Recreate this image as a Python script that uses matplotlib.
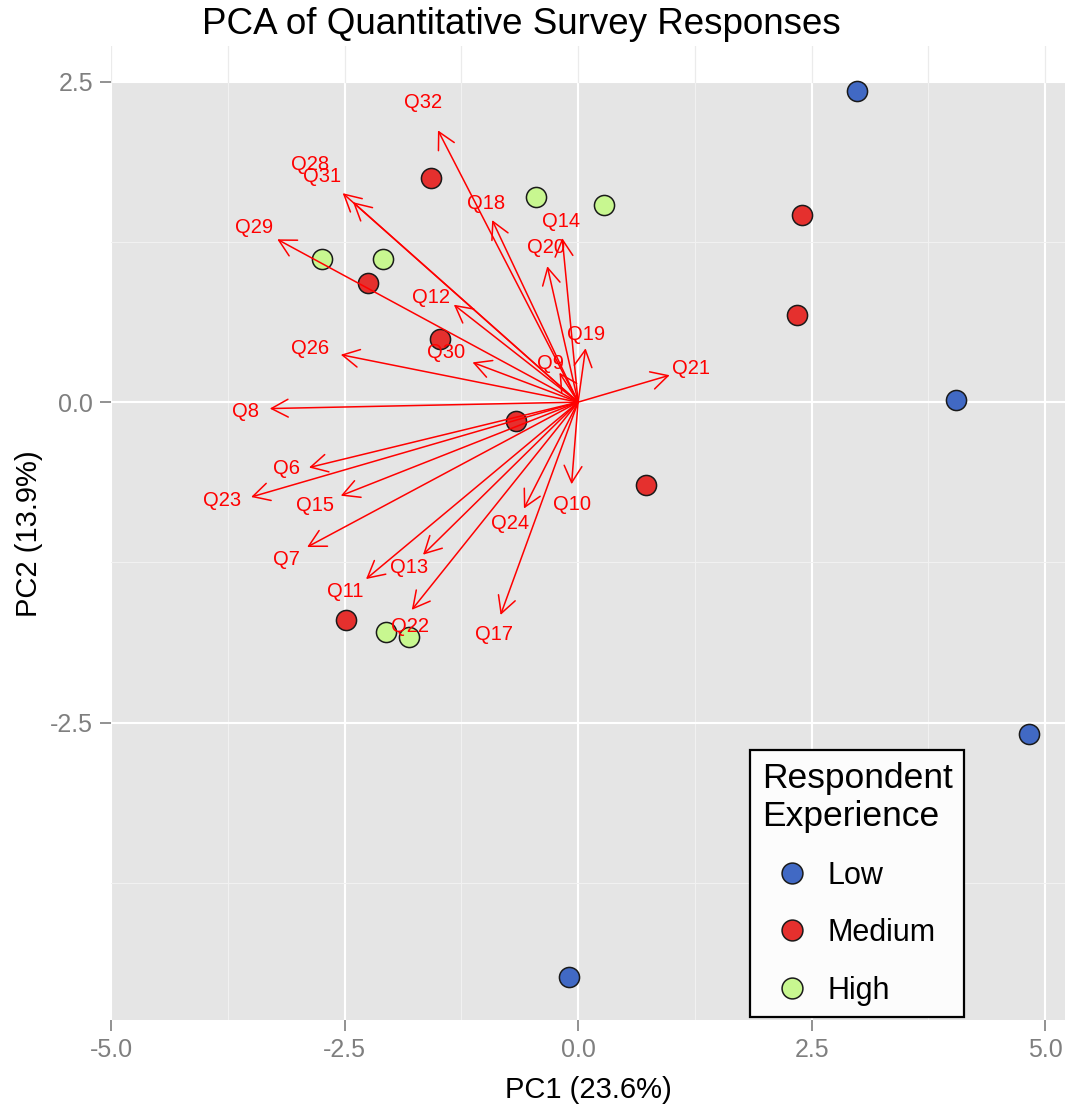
import matplotlib
matplotlib.use("Agg")
import matplotlib.pyplot as plt
from matplotlib.lines import Line2D

plt.rcParams['font.family'] = ['Liberation Sans', 'DejaVu Sans']

# respondent scores on PC1 / PC2
low_x = [2.99, 4.05, 4.83, -0.10]
low_y = [2.43, 0.02, -2.59, -4.48]
med_x = [-1.57, 2.40, -2.25, 2.34, -1.48, -0.67, 0.73, -2.48]
med_y = [1.75, 1.46, 0.93, 0.68, 0.49, -0.15, -0.65, -1.70]
high_x = [-0.45, 0.28, -2.74, -2.09, -2.06, -1.81]
high_y = [1.60, 1.54, 1.12, 1.12, -1.79, -1.83]

# variable loadings (arrow tips) and where their labels sit
var_names = ['Q32', 'Q28', 'Q31', 'Q29', 'Q18', 'Q14', 'Q20', 'Q12', 'Q26', 'Q30',
             'Q9', 'Q19', 'Q8', 'Q21', 'Q10', 'Q6', 'Q23', 'Q15', 'Q7', 'Q11',
             'Q13', 'Q22', 'Q17', 'Q24']
var_x = [-1.50, -2.52, -2.41, -3.22, -0.92, -0.17, -0.33, -1.33, -2.54, -1.13,
         -0.20, 0.08, -3.30, 0.98, -0.07, -2.88, -3.50, -2.54, -2.90, -2.27,
         -1.66, -1.78, -0.83, -0.58]
var_y = [2.12, 1.63, 1.56, 1.27, 1.42, 1.28, 1.06, 0.76, 0.37, 0.31,
         0.23, 0.42, -0.05, 0.21, -0.64, -0.51, -0.74, -0.73, -1.13, -1.38,
         -1.19, -1.62, -1.66, -0.83]
lab_x = [-1.66, -2.87, -2.74, -3.47, -0.98, -0.18, -0.34, -1.57, -2.87, -1.41,
         -0.30, 0.09, -3.56, 1.21, -0.07, -3.12, -3.81, -2.82, -3.12, -2.49,
         -1.81, -1.80, -0.90, -0.73]
lab_y = [2.34, 1.85, 1.76, 1.36, 1.55, 1.41, 1.21, 0.82, 0.42, 0.39,
         0.30, 0.53, -0.07, 0.26, -0.80, -0.52, -0.77, -0.81, -1.23, -1.48,
         -1.29, -1.75, -1.81, -0.95]

fig = plt.figure(figsize=(10.67, 11.04), dpi=100)
ax = fig.add_axes([0.104, 0.076, 0.894, 0.882])
ax.set_xlim(-5.0, 5.21)
ax.set_ylim(-4.82, 2.775)
ax.set_facecolor('white')

# ggplot style panel (grey stops at the top break)
ax.axhspan(-4.82, 2.5, color='#e5e5e5', zorder=0, lw=0)
ax.set_xticks([-5.0, -2.5, 0.0, 2.5, 5.0])
ax.set_yticks([-2.5, 0.0, 2.5])
ax.set_xticks([-3.75, -1.25, 1.25, 3.75], minor=True)
ax.set_yticks([-3.75, -1.25, 1.25], minor=True)
ax.grid(which='major', color='white', lw=1.5, zorder=0.5)
ax.grid(which='minor', color='#f2f2f2', lw=0.7, zorder=0.5)
ax.set_axisbelow(True)
for xv in [-5.0, -3.75, -2.5, -1.25, 0.0, 1.25, 2.5, 3.75, 5.0]:
    ax.plot([xv, xv], [2.5, 2.775], color='#ebebeb', lw=0.9, zorder=0.6)
for s in ax.spines.values():
    s.set_visible(False)
ax.tick_params(which='major', length=8, width=1.2, color='#7f7f7f',
               labelsize=18, labelcolor='#7f7f7f', pad=5)
ax.tick_params(which='minor', length=0)
ax.set_xticklabels(['-5.0', '-2.5', '0.0', '2.5', '5.0'])
ax.set_yticklabels(['-2.5', '0.0', '2.5'])

# points
pt = dict(s=210, edgecolors='#1a1a1a', linewidths=1.1, zorder=3)
ax.scatter(low_x, low_y, color='#4169c4', **pt)
ax.scatter(med_x, med_y, color='#e5302e', **pt)
ax.scatter(high_x, high_y, color='#c8f790', **pt)

# loading arrows
for name, vx, vy, tx, ty in zip(var_names, var_x, var_y, lab_x, lab_y):
    ax.annotate('', xy=(vx, vy), xytext=(0, 0),
                arrowprops=dict(arrowstyle='->,head_length=0.6,head_width=0.32',
                                color='red', lw=1.1, shrinkA=0, shrinkB=0,
                                mutation_scale=20), zorder=4)
    ax.text(tx, ty, name, color='red', fontsize=14.5, ha='center', va='center', zorder=5)

fig.text(0.489, 0.978, 'PCA of Quantitative Survey Responses', fontsize=26.5,
         ha='center', va='center')
ax.set_xlabel('PC1 (23.6%)', fontsize=21, labelpad=10)
ax.set_ylabel('PC2 (13.9%)', fontsize=21, labelpad=5)

handles = [Line2D([], [], marker='o', ls='', markersize=15, markerfacecolor=c,
                  markeredgecolor='#1a1a1a', markeredgewidth=1.1)
           for c in ['#4169c4', '#e5302e', '#c8f790']]
leg = ax.legend(handles, ['Low', 'Medium', 'High'], title='Respondent\nExperience',
                loc='upper left', bbox_to_anchor=(0.670, 0.277), borderaxespad=0,
                fontsize=22, title_fontsize=25.5, frameon=True, fancybox=False,
                edgecolor='black', facecolor='#fcfcfc', framealpha=1,
                alignment='left', handletextpad=0.15, labelspacing=0.9,
                borderpad=0.38, handlelength=2.0)
leg.get_frame().set_linewidth(1.6)
leg.set_zorder(10)

fig.savefig('out.png', dpi=100)
